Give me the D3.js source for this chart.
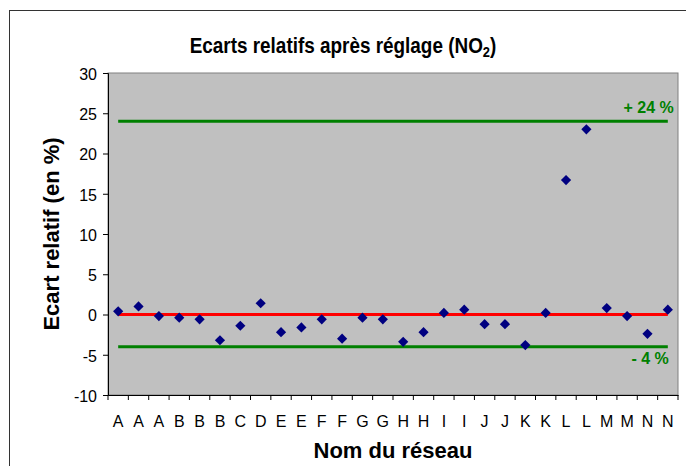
<!DOCTYPE html>
<html>
<head>
<meta charset="utf-8">
<script src="https://cdn.jsdelivr.net/npm/d3@7"></script>
<style>
    body { margin: 0; background: #fff; }
    svg { display: block; font-family: "Liberation Sans", Arial, sans-serif; }
    .tick text { font-size: 16px; fill: #000; }
</style>
</head>
<body>
<svg id="chart"></svg>
<script>
const categories = ["A", "A", "A", "B", "B", "B", "C", "D", "E", "E", "F", "F", "G", "G",
    "H", "H", "I", "I", "J", "J", "K", "K", "L", "L", "M", "M", "N", "N"];
const ecarts = [0.4, 1.0, -0.2, -0.4, -0.6, -3.2, -1.4, 1.4, -2.2, -1.6, -0.6, -3.0, -0.4, -0.6,
    -3.4, -2.2, 0.2, 0.6, -1.2, -1.2, -3.8, 0.2, 16.7, 23.0, 0.8, -0.2, -2.4, 0.6];
const yTicks = [-10, -5, 0, 5, 10, 15, 20, 25, 30];
const limits = [{ value: 24, label: "+ 24 %" }, { value: -4, label: "- 4 %" }];
const reference = 0;

const width = 686, height = 466;
const margin = { top: 73, right: 8, bottom: 71, left: 108 };
const plotW = width - margin.left - margin.right;
const plotH = height - margin.top - margin.bottom;

const svg = d3.select("#chart").attr("width", width).attr("height", height);

// outer chart frame
svg.append("rect")
    .attr("x", 9.5).attr("y", 10.5)
    .attr("width", 700).attr("height", 500)
    .attr("fill", "none").attr("stroke", "#333").attr("stroke-width", 1);

const g = svg.append("g").attr("transform", `translate(${margin.left},${margin.top})`);

const idx = d3.range(categories.length);
const x = d3.scaleBand().domain(idx).range([0, plotW]);
const y = d3.scaleLinear().domain([-10, 30]).range([plotH, 0]);
const cx = i => x(i) + x.bandwidth() / 2;

g.append("rect")
    .attr("width", plotW).attr("height", plotH)
    .attr("fill", "#c0c0c0").attr("stroke", "#808080").attr("stroke-width", 1);

// axes (plain hyphen for negatives, like the original)
const yAxis = g.append("g")
    .call(d3.axisLeft(y).tickValues(yTicks).tickSize(5).tickPadding(6).tickFormat(d => String(d)));
yAxis.select(".domain").attr("stroke", "#000");
yAxis.selectAll(".tick line").attr("stroke", "#000");
yAxis.selectAll(".tick text").attr("dy", "0.4em");

const xAxis = g.append("g")
    .attr("transform", `translate(0,${plotH})`)
    .call(d3.axisBottom(x).tickSize(0).tickPadding(21).tickFormat(i => categories[i]));
xAxis.select(".domain").attr("stroke", "#000");

// tick marks between categories
xAxis.selectAll(".sep")
    .data(d3.range(categories.length + 1))
    .join("line")
    .attr("class", "sep")
    .attr("x1", i => i * x.step()).attr("x2", i => i * x.step())
    .attr("y1", 0).attr("y2", 5)
    .attr("stroke", "#000");

// limit lines
const x0 = cx(0), x1 = cx(categories.length - 1);
g.selectAll(".limit")
    .data(limits)
    .join("line")
    .attr("class", "limit")
    .attr("x1", x0).attr("x2", x1)
    .attr("y1", d => y(d.value)).attr("y2", d => y(d.value))
    .attr("stroke", "#008000").attr("stroke-width", 3);

g.append("line")
    .attr("x1", x0).attr("x2", x1)
    .attr("y1", y(reference)).attr("y2", y(reference))
    .attr("stroke", "#ff0000").attr("stroke-width", 3);

g.selectAll(".limit-label")
    .data(limits)
    .join("text")
    .attr("class", "limit-label")
    .attr("x", (d, i) => i === 0 ? x1 + 6 : x1 + 1)
    .attr("y", d => d.value > 0 ? y(d.value) - 8 : y(d.value) + 17)
    .attr("text-anchor", "end")
    .attr("font-size", 16).attr("font-weight", "bold")
    .attr("fill", "#008000")
    .text(d => d.label);

// points
const diamond = d3.symbol().type(d3.symbolSquare).size(52);
g.selectAll(".pt")
    .data(ecarts)
    .join("path")
    .attr("class", "pt")
    .attr("d", diamond)
    .attr("transform", (d, i) => `translate(${cx(i)},${y(d)}) rotate(45)`)
    .attr("fill", "#000080");

// titles
const title = svg.append("text")
    .attr("transform", "translate(343,53) scale(0.86,1)")
    .attr("text-anchor", "middle")
    .attr("font-size", 22).attr("font-weight", "bold");
title.append("tspan").text("Ecarts relatifs après réglage (NO");
title.append("tspan").attr("font-size", 15).attr("dy", 4).text("2");
title.append("tspan").attr("dy", -4).text(")");

svg.append("text")
    .attr("x", margin.left + plotW / 2).attr("y", 458)
    .attr("text-anchor", "middle")
    .attr("font-size", 22).attr("font-weight", "bold")
    .text("Nom du réseau");

svg.append("text")
    .attr("transform", `translate(59,${margin.top + plotH / 2}) rotate(-90)`)
    .attr("text-anchor", "middle")
    .attr("font-size", 22).attr("font-weight", "bold")
    .text("Ecart relatif (en %)");
</script>
</body>
</html>
